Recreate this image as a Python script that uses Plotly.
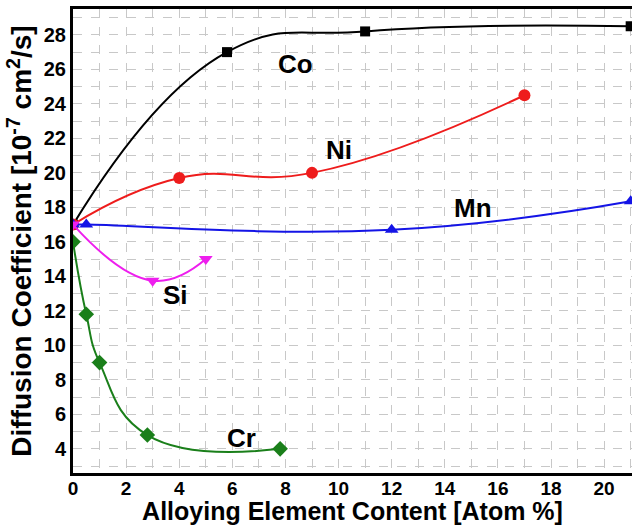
import plotly.graph_objects as go

# Data
co_x = [0, 5.8, 11, 21]
co_y = [17, 27, 28.2, 28.5]
ni_x = [0, 4, 9, 17]
ni_y = [17, 19.7, 20, 24.5]
mn_x = [0, 0.5, 12, 21]
mn_y = [17, 17, 16.7, 18.35]
si_x = [0, 3, 5]
si_y = [17, 13.75, 15]
cr_x = [0, 0.5, 1, 2.8, 7.8]
cr_y = [16, 11.8, 9, 4.8, 4]

label_text = ["Co", "Ni", "Mn", "Si", "Cr"]
label_x = [8.38, 10.0, 15.08, 3.87, 6.35]
label_y = [26.3, 21.3, 17.95, 12.9, 4.65]

FONT = "Liberation Sans, Arial, sans-serif"

series = [
    (co_x, co_y, "black", "square", 10),
    (ni_x, ni_y, "#ee1c1c", "circle", 12),
    (mn_x, mn_y, "#1414e6", "triangle-up", 12),
    (cr_x, cr_y, "#1a7f1a", "diamond", 12),
    (si_x, si_y, "#ee1eee", "triangle-down", 12),
]

fig = go.Figure()
for xs, ys, col, sym, sz in series:
    fig.add_trace(go.Scatter(
        x=xs, y=ys, mode="lines+markers",
        line=dict(color=col, width=2, shape="spline", smoothing=1.3),
        marker=dict(color=col, symbol=sym, size=sz),
        showlegend=False,
    ))

for t, x, y in zip(label_text, label_x, label_y):
    fig.add_annotation(x=x, y=y, text=t, showarrow=False,
                       font=dict(family=FONT, size=26, color="black", weight="bold"))

grid = dict(showgrid=True, gridcolor="#c8c8c8", gridwidth=1, griddash="dash")
minor = dict(dtick=1, showgrid=True, gridcolor="#c8c8c8", gridwidth=1, griddash="dash")

fig.update_layout(
    width=632, height=525,
    margin=dict(l=73, r=0, t=9, b=52),
    plot_bgcolor="white", paper_bgcolor="white",
    font=dict(family=FONT, color="black"),
    xaxis=dict(
        range=[0, 21.05], dtick=2, tick0=0, **grid, minor=minor,
        showline=True, linecolor="black", linewidth=3, mirror=True,
        ticks="", ticklen=0, ticklabelstandoff=-4, zeroline=False,
        tickfont=dict(family=FONT, size=19, weight="bold"),
        title=dict(text="Alloying Element Content [Atom %]", standoff=0,
                   font=dict(family=FONT, size=25, weight="bold")),
    ),
    yaxis=dict(
        range=[2.6, 29.5], dtick=2, tick0=0, **grid, minor=minor,
        showline=True, linecolor="black", linewidth=3,
        ticks="", ticklen=0, zeroline=False,
        tickfont=dict(family=FONT, size=20, weight="bold"),
        title=dict(text="Diffusion Coefficient [10<sup>-7</sup> cm<sup>2</sup>/s]", standoff=4,
                   font=dict(family=FONT, size=28, weight="bold")),
    ),
)

fig.write_html("out.html")
